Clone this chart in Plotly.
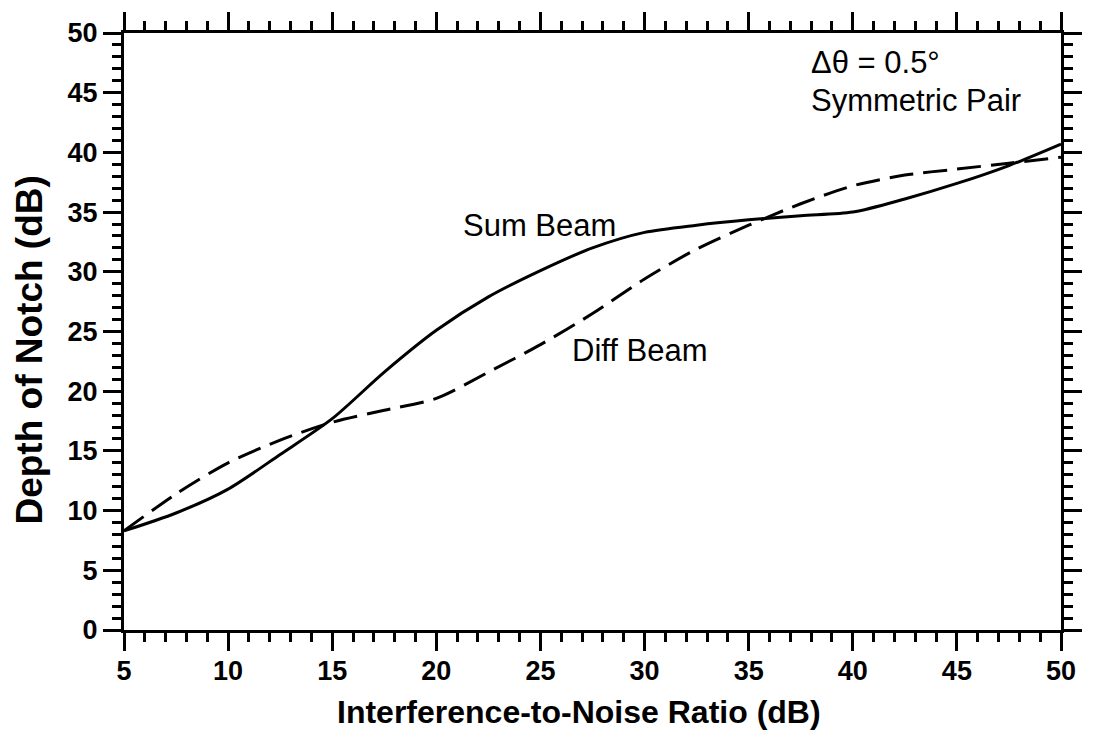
import plotly.graph_objects as go

# Interference-to-noise ratio (dB)
inr = [5, 7.5, 10, 12.5, 15, 17.5, 20, 22.5, 25, 27.5, 30, 32.5, 35, 37.5, 40, 42.5, 45, 47.5, 50]
# Depth of notch (dB) for the two beams
sum_beam = [8.3, 9.8, 11.8, 14.7, 17.7, 21.6, 25.1, 27.9, 30.1, 32.0, 33.3, 33.9, 34.35, 34.7, 35.0, 36.1, 37.4, 38.9, 40.7]
diff_beam = [8.3, 11.4, 14.0, 15.9, 17.4, 18.4, 19.4, 21.6, 23.9, 26.5, 29.4, 31.9, 33.9, 35.7, 37.2, 38.1, 38.6, 39.1, 39.6]

x_ticks = [5, 10, 15, 20, 25, 30, 35, 40, 45, 50]
y_ticks = [0, 5, 10, 15, 20, 25, 30, 35, 40, 45, 50]

FONT = "Liberation Sans, Arial, sans-serif"

fig = go.Figure()
fig.add_trace(go.Scatter(x=inr, y=sum_beam, mode="lines", name="Sum Beam",
                         line=dict(color="black", width=3, shape="spline", smoothing=0.8)))
fig.add_trace(go.Scatter(x=inr, y=diff_beam, mode="lines", name="Diff Beam",
                         line=dict(color="black", width=3, shape="spline", smoothing=0.8,
                                   dash="24px,10px")))

axis_common = dict(
    showline=True, linecolor="black", linewidth=3, mirror="allticks",
    ticks="outside", ticklen=18, tickwidth=3, tickcolor="black",
    showgrid=False, zeroline=False,
    tickfont=dict(family=FONT, size=27, color="black", weight="bold"),
    minor=dict(ticks="outside", ticklen=9, tickwidth=2.5, tickcolor="black", dtick=1, showgrid=False),
)

fig.update_xaxes(range=[5, 50], tickvals=x_ticks, ticklabelstandoff=-3, **axis_common)
fig.update_yaxes(range=[0, 50], tickvals=y_ticks, **axis_common)

# plot-area margins in pixels
L, R, T, B = 124, 21, 28, 104
pw, ph = 1094 - L - R, 734 - T - B


def px_to_paper(px, py):
    """Pixel position (from top-left of the figure) to paper fractions."""
    return (px - L) / pw, ((734 - py) - B) / ph


xt_x, xt_y = px_to_paper(585, 713)
yt_x, yt_y = px_to_paper(28, 348)

annotations = [
    dict(x=24.95, y=33.85, xref="x", yref="y", text="Sum Beam", showarrow=False,
         font=dict(family=FONT, size=31, color="black")),
    dict(x=29.8, y=23.45, xref="x", yref="y", text="Diff Beam", showarrow=False,
         font=dict(family=FONT, size=31, color="black")),
    dict(x=37.9, y=47.5, xref="x", yref="y", xanchor="left", text="Δθ = 0.5°", showarrow=False,
         font=dict(family=FONT, size=31, color="black")),
    dict(x=37.9, y=44.35, xref="x", yref="y", xanchor="left", text="Symmetric Pair", showarrow=False,
         font=dict(family=FONT, size=31, color="black")),
    dict(x=xt_x, y=xt_y, xref="paper", yref="paper", xanchor="center", yanchor="middle",
         text="Interference-to-Noise Ratio (dB)", showarrow=False,
         font=dict(family=FONT, size=32, color="black", weight="bold")),
    dict(x=yt_x, y=yt_y, xref="paper", yref="paper", xanchor="center", yanchor="middle",
         text="Depth of Notch (dB)", textangle=-90, showarrow=False,
         font=dict(family=FONT, size=37, color="black", weight="bold")),
]

fig.update_layout(
    width=1094, height=734,
    margin=dict(l=L, r=R, t=T, b=B),
    paper_bgcolor="white", plot_bgcolor="white",
    showlegend=False,
    annotations=annotations,
)

fig.write_html("out.html")
